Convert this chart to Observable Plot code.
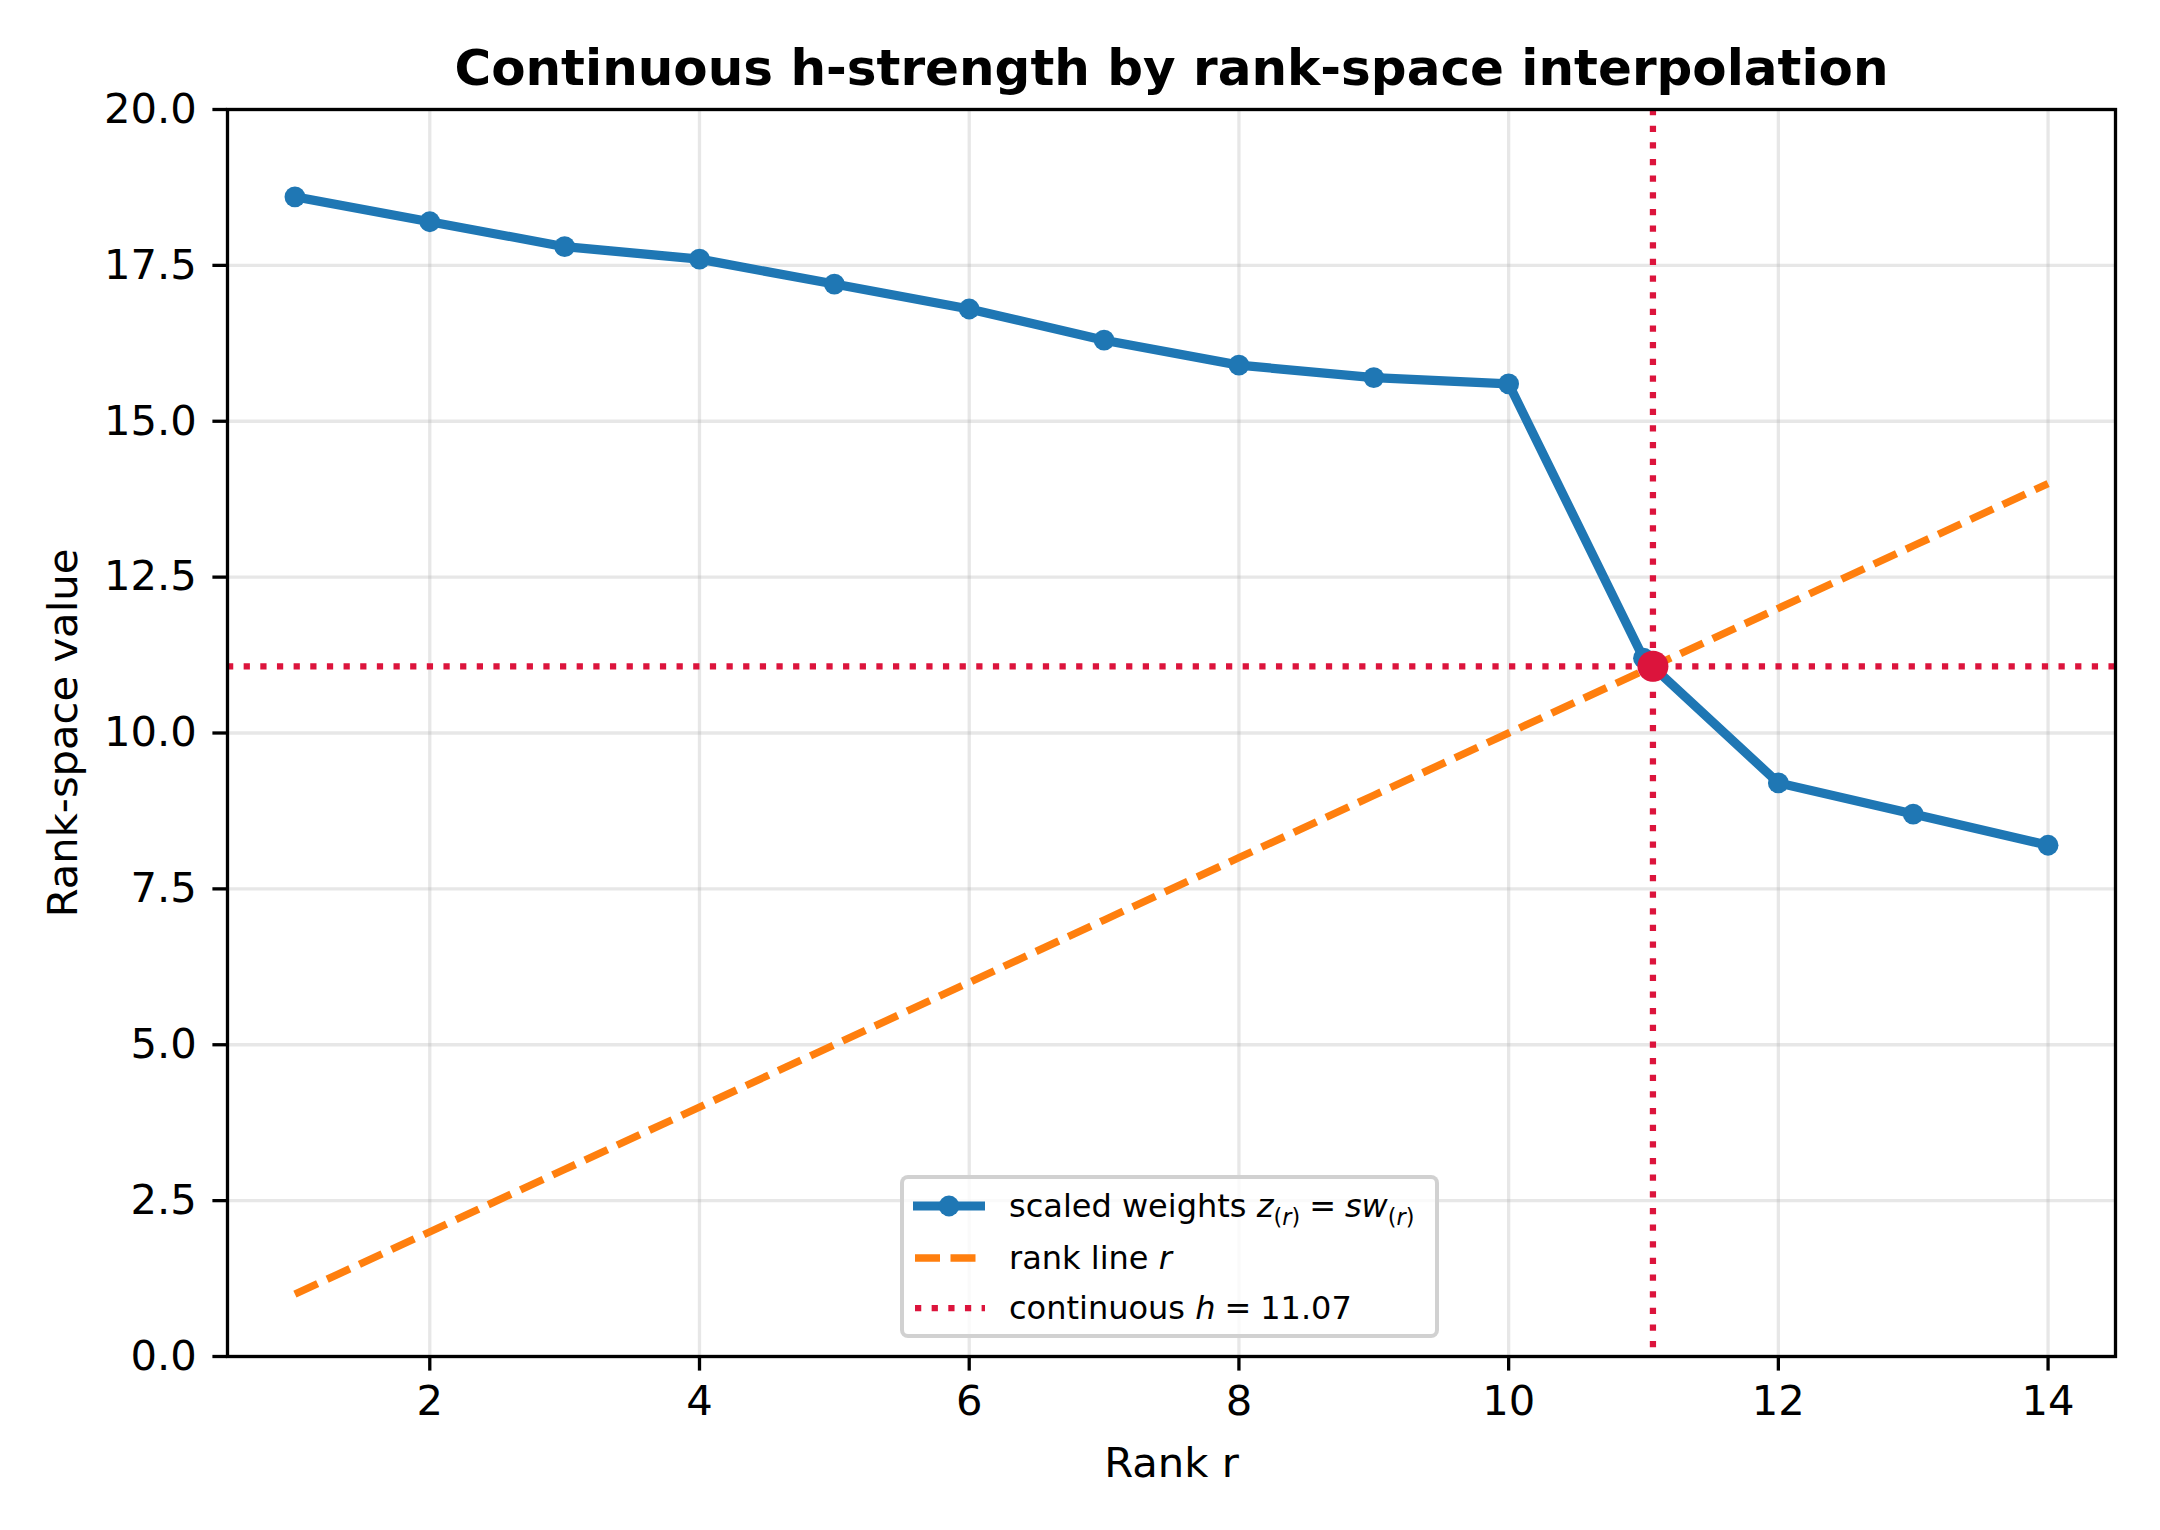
<!DOCTYPE html>
<html>
<head>
<meta charset="utf-8">
<script src="https://cdn.jsdelivr.net/npm/d3@7"></script>
<script src="https://cdn.jsdelivr.net/npm/@observablehq/plot@0.6"></script>
<style>
  html, body { margin: 0; padding: 0; background: white; }
  #wrap { position: relative; width: 2160px; height: 1530px; font-family: "DejaVu Sans", sans-serif; }
  #legend {
    position: absolute; left: 900px; top: 1175px; width: 531px; height: 155px;
    border: 4px solid rgba(204,204,204,0.9); border-radius: 8px; background: rgba(255,255,255,0.8);
    font-size: 32px; color: black;
  }
  .row { position: absolute; left: 0; height: 40px; width: 100%; }
  .row svg { position: absolute; left: 7px; top: 0; }
  .row span { position: absolute; left: 105px; top: 50%; transform: translateY(-50%); white-space: nowrap; line-height: 1; }
  sub { font-size: 0.7em; vertical-align: -0.35em; line-height: 0; }
  i { font-style: italic; }
  .eq { margin: 0 0.28em; }
</style>
</head>
<body>
<div id="wrap"></div>
<script>
// ---- data ----
const ranks = [1, 2, 3, 4, 5, 6, 7, 8, 9, 10, 11, 12, 13, 14];
const scaledWeights = [18.6, 18.2, 17.8, 17.6, 17.2, 16.8, 16.3, 15.9, 15.7, 15.6, 11.2, 9.2, 8.7, 8.2];
const rankLine = [1, 2, 3, 4, 5, 6, 7, 8, 9, 10, 11, 12, 13, 14];
const hValue = 11.07;
const xTicks = [2, 4, 6, 8, 10, 12, 14];
const yTicks = [0, 2.5, 5, 7.5, 10, 12.5, 15, 17.5, 20];
const titleText = "Continuous h-strength by rank-space interpolation";
const xLabel = "Rank r";
const yLabel = "Rank-space value";

const weightData = ranks.map((r, i) => ({r, z: scaledWeights[i]}));
const rankData = ranks.map((r, i) => ({r, v: rankLine[i]}));
const hData = [{x: hValue, y: hValue}];

const blue = "#1f77b4", orange = "#ff7f0e", crimson = "#DC143C";

const chart = Plot.plot({
  width: 2160,
  height: 1530,
  marginLeft: 227,
  marginRight: 45,
  marginTop: 109,
  marginBottom: 174,
  style: {fontFamily: "DejaVu Sans", fontSize: "41.7px", color: "black", background: "white", overflow: "visible"},
  x: {domain: [0.5, 14.5]},
  y: {domain: [0, 20]},
  marks: [
    Plot.gridX(xTicks, {stroke: "#b0b0b0", strokeOpacity: 0.3, strokeWidth: 3.3}),
    Plot.gridY(yTicks, {stroke: "#b0b0b0", strokeOpacity: 0.3, strokeWidth: 3.3}),
    Plot.axisX({ticks: xTicks, tickSize: 14.6, tickPadding: 14, strokeWidth: 3.3, label: null, fontSize: 41.7}),
    Plot.axisY({ticks: yTicks, tickFormat: d3.format(".1f"), tickSize: 14.6, tickPadding: 16, strokeWidth: 3.3, label: null, fontSize: 41.7}),
    Plot.line(weightData, {x: "r", y: "z", stroke: blue, strokeWidth: 9.2, strokeLinejoin: "round", strokeLinecap: "square"}),
    Plot.dot(weightData, {x: "r", y: "z", r: 10.4, fill: blue, stroke: "none"}),
    Plot.line(rankData, {x: "r", y: "v", stroke: orange, strokeWidth: 7.5, strokeDasharray: "25,10.5", strokeLinecap: "butt"}),
    Plot.ruleX(hData, {x: "x", stroke: crimson, strokeWidth: 6.25, strokeDasharray: "6.25,10.4", strokeLinecap: "butt"}),
    Plot.ruleY(hData, {y: "y", stroke: crimson, strokeWidth: 6.25, strokeDasharray: "6.25,10.4", strokeLinecap: "butt"}),
    Plot.dot(hData, {x: "x", y: "y", r: 15.5, fill: crimson, stroke: "none"}),
    Plot.frame({stroke: "black", strokeWidth: 3.3}),
    Plot.text([titleText], {text: d => d, frameAnchor: "top", dy: -25, lineAnchor: "bottom", fontSize: 50, fontWeight: "bold"}),
    Plot.text([xLabel], {text: d => d, frameAnchor: "bottom", dy: 120, lineAnchor: "bottom", fontSize: 41.7}),
    Plot.text([yLabel], {text: d => d, frameAnchor: "left", textAnchor: "middle", dx: -164, rotate: -90, fontSize: 41.7})
  ]
});

const wrap = document.getElementById("wrap");
wrap.appendChild(chart);

// ---- legend ----
const legend = document.createElement("div");
legend.id = "legend";
legend.innerHTML = `
  <div class="row" style="top:7px">
    <svg width="76" height="40"><line x1="2" y1="20" x2="74" y2="20" stroke="${blue}" stroke-width="9.2"/><circle cx="38" cy="20" r="10.4" fill="${blue}"/></svg>
    <span>scaled weights <i>z</i><sub>(<i>r</i>)</sub><span class="eq" style="position:static;transform:none">=</span><i>sw</i><sub>(<i>r</i>)</sub></span>
  </div>
  <div class="row" style="top:59px">
    <svg width="76" height="40"><line x1="4" y1="20" x2="74" y2="20" stroke="${orange}" stroke-width="7.5" stroke-dasharray="25,10.5"/></svg>
    <span>rank line <i>r</i></span>
  </div>
  <div class="row" style="top:109px">
    <svg width="76" height="40"><line x1="4" y1="20" x2="74" y2="20" stroke="${crimson}" stroke-width="6.25" stroke-dasharray="6.25,10.4"/></svg>
    <span>continuous <i>h</i><span class="eq" style="position:static;transform:none">=</span>${hValue.toFixed(2)}</span>
  </div>`;
wrap.appendChild(legend);
</script>
</body>
</html>
